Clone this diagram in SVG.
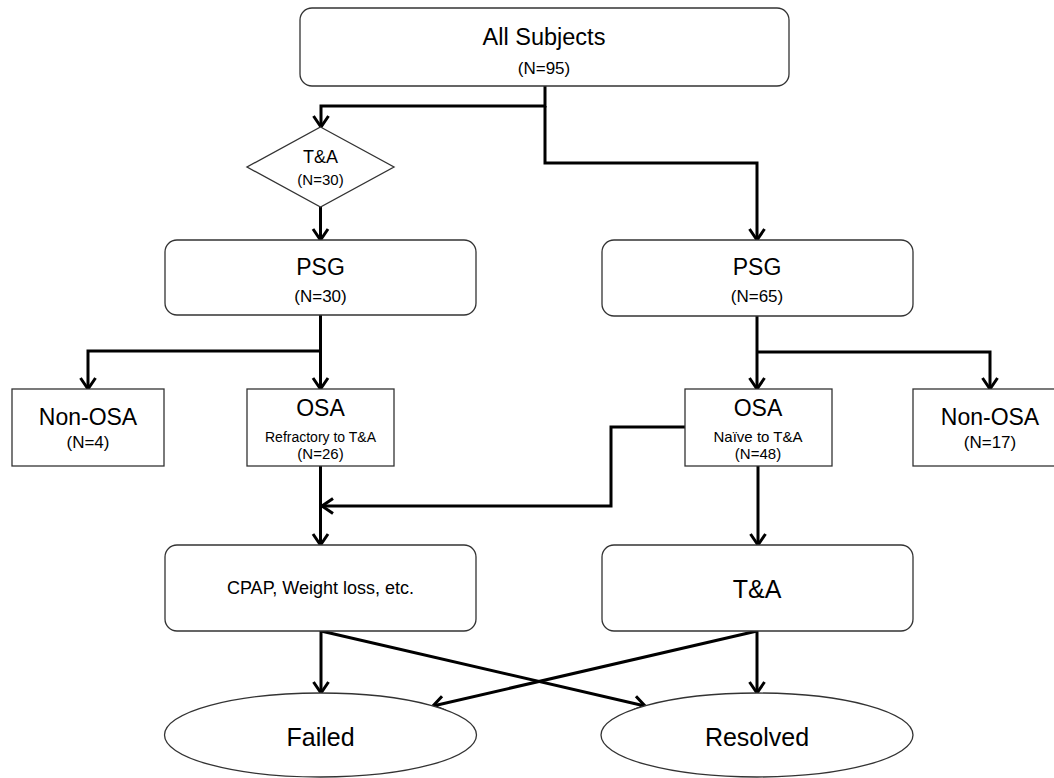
<svg xmlns="http://www.w3.org/2000/svg" width="1054" height="778" viewBox="0 0 1054 778">
<defs>
<marker id="arr" markerUnits="userSpaceOnUse" viewBox="-14 -10 16 20" refX="0" refY="0" markerWidth="16" markerHeight="20" orient="auto">
<path d="M-11,-7.5 L0,0 L-11,7.5" fill="none" stroke="#000" stroke-width="3" stroke-linejoin="miter"/>
</marker>
<style>
.box{fill:#fff;stroke:#333;stroke-width:1.3}
.c{fill:none;stroke:#000;stroke-width:3}
text{font-family:"Liberation Sans",Arial,sans-serif;fill:#000;text-anchor:middle}
.t{font-size:23px}
.n{font-size:17px}
.s{font-size:14px}
.big{font-size:25px}
</style>
</defs>
<rect width="1054" height="778" fill="#fff"/>
<g id="connectors">
<path class="c" d="M545,86 V106 H321 V127" marker-end="url(#arr)"/>
<path class="c" d="M545,106 V163 H757 V240" marker-end="url(#arr)"/>
<path class="c" d="M320.5,207 V240" marker-end="url(#arr)"/>
<path class="c" d="M320.5,315 V389" marker-end="url(#arr)"/>
<path class="c" d="M320.5,351 H88 V389" marker-end="url(#arr)"/>
<path class="c" d="M757,316 V389" marker-end="url(#arr)"/>
<path class="c" d="M757,352 H990 V389" marker-end="url(#arr)"/>
<path class="c" d="M320.5,466 V545" marker-end="url(#arr)"/>
<path class="c" d="M685,427 H611 V506 H322" marker-end="url(#arr)"/>
<path class="c" d="M758,466 V545" marker-end="url(#arr)"/>
<path class="c" d="M321,631 V693" marker-end="url(#arr)"/>
<path class="c" d="M321,631 L645,706" marker-end="url(#arr)"/>
<path class="c" d="M757,631 L433,706" marker-end="url(#arr)"/>
<path class="c" d="M757,631 V693" marker-end="url(#arr)"/>
</g>
<g id="all-subjects">
<rect class="box" x="300" y="8" width="489" height="78" rx="12"/>
<text x="544" y="45" font-size="23.5">All Subjects</text>
<text class="n" x="544" y="74">(N=95)</text>
</g>
<g id="ta-diamond">
<polygon class="box" points="320.5,127 394,167 320.5,207 247,167"/>
<text x="320.5" y="163" font-size="18">T&amp;A</text>
<text x="320.5" y="185" font-size="15">(N=30)</text>
</g>
<g id="psg-left">
<rect class="box" x="165" y="240" width="311" height="75" rx="12"/>
<text class="t" x="320.5" y="275">PSG</text>
<text class="n" x="320.5" y="302">(N=30)</text>
</g>
<g id="psg-right">
<rect class="box" x="602" y="240" width="311" height="76" rx="12"/>
<text class="t" x="757" y="275">PSG</text>
<text class="n" x="757" y="302">(N=65)</text>
</g>
<g id="nonosa-left">
<rect class="box" x="12" y="389" width="152" height="77"/>
<text class="t" x="88" y="425">Non-OSA</text>
<text class="n" x="88" y="448">(N=4)</text>
</g>
<g id="osa-left">
<rect class="box" x="247" y="389" width="147" height="77"/>
<text class="t" x="320.5" y="416">OSA</text>
<text class="s" x="320.5" y="442">Refractory to T&amp;A</text>
<text x="320.5" y="459" font-size="15">(N=26)</text>
</g>
<g id="osa-right">
<rect class="box" x="685" y="389" width="147" height="77"/>
<text class="t" x="758" y="416">OSA</text>
<text x="758" y="442" font-size="15">Naïve to T&amp;A</text>
<text x="758" y="459" font-size="15">(N=48)</text>
</g>
<g id="nonosa-right">
<rect class="box" x="913" y="389" width="154" height="77"/>
<text class="t" x="990" y="425">Non-OSA</text>
<text class="n" x="990" y="448">(N=17)</text>
</g>
<g id="cpap">
<rect class="box" x="165" y="545" width="311" height="86" rx="12"/>
<text x="320.5" y="594" font-size="18">CPAP, Weight loss, etc.</text>
</g>
<g id="ta">
<rect class="box" x="602" y="545" width="311" height="86" rx="12"/>
<text class="big" x="757" y="598">T&amp;A</text>
</g>
<g id="failed">
<ellipse class="box" cx="320.5" cy="735" rx="156" ry="42"/>
<text class="big" x="320.5" y="746">Failed</text>
</g>
<g id="resolved">
<ellipse class="box" cx="757" cy="735" rx="156" ry="42"/>
<text class="big" x="757" y="746">Resolved</text>
</g>
</svg>
